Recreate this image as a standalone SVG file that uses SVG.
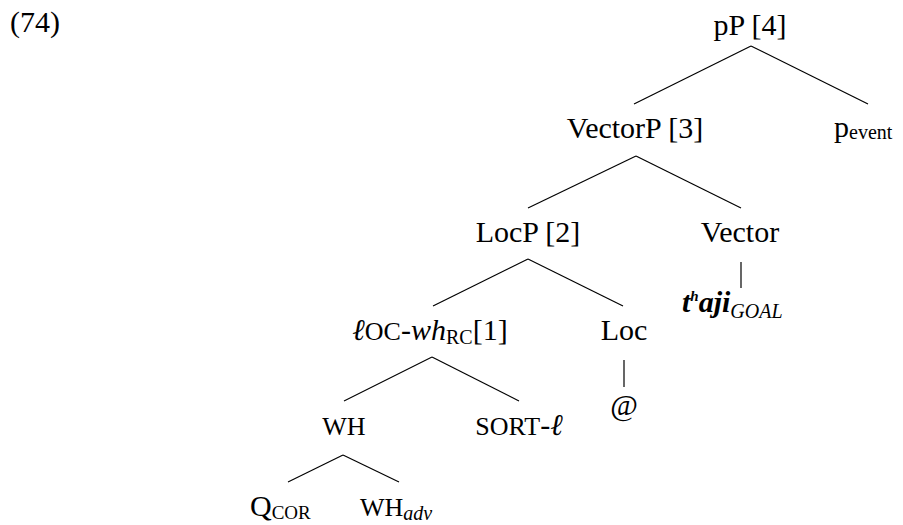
<svg xmlns="http://www.w3.org/2000/svg" width="903" height="525" viewBox="0 0 903 525">
<style>
text{font-family:"Liberation Serif","DejaVu Serif",serif;font-size:30px;fill:#000}
.m{text-anchor:middle}
.sc{font-size:26px}
.sub{font-size:20px}
.it{font-style:italic}
.bi{font-style:italic;font-weight:bold}
#edges line{stroke:#000;stroke-width:1.2}
</style>
<rect width="903" height="525" fill="#fff"/>
<text id="ex" x="10" y="32">(74)</text>
<g id="edges">
<line x1="751" y1="46" x2="634" y2="104"/>
<line x1="751" y1="46" x2="868" y2="104"/>
<line x1="636" y1="156" x2="528" y2="208"/>
<line x1="636" y1="156" x2="741" y2="208"/>
<line x1="528" y1="259" x2="433" y2="306"/>
<line x1="528" y1="259" x2="623" y2="306"/>
<line x1="432" y1="357" x2="344" y2="401"/>
<line x1="432" y1="357" x2="519" y2="401"/>
<line x1="343" y1="455" x2="288" y2="482"/>
<line x1="343" y1="455" x2="399" y2="482"/>
<line x1="741" y1="262" x2="741" y2="288"/>
<line x1="624" y1="360" x2="624" y2="387"/>
</g>
<g id="pP"><text class="m" x="750" y="35">pP [4]</text></g>
<g id="VectorP"><text class="m" x="635" y="138">VectorP [3]</text></g>
<g id="pevent"><text x="834" y="137">p<tspan class="sub" dy="2">event</tspan></text></g>
<g id="LocP"><text class="m" x="528" y="242">LocP [2]</text></g>
<g id="Vector"><text class="m" x="740" y="242">Vector</text></g>
<g id="locwh"><text class="m" x="430" y="340"><tspan class="it">ℓ</tspan><tspan class="sc">OC</tspan>-<tspan class="it">wh</tspan><tspan class="sub" dy="4">RC</tspan><tspan dy="-4">[1]</tspan></text></g>
<g id="Loc"><text class="m" x="624" y="340">Loc</text></g>
<g id="thaji"><text x="682" y="312"><tspan class="bi">t</tspan><tspan class="bi" font-size="15" dy="-11">h</tspan><tspan class="bi" dy="11">aji</tspan><tspan class="it sub" dy="6">GOAL</tspan></text></g>
<g id="at"><text class="m" x="624" y="415" font-size="24">@</text></g>
<g id="WH"><text class="m sc" x="344" y="435">WH</text></g>
<g id="SORT"><text class="m" x="519" y="435"><tspan class="sc">SORT</tspan>-<tspan class="it">ℓ</tspan></text></g>
<g id="QCOR"><text x="250" y="516">Q<tspan font-size="19" dy="3">COR</tspan></text></g>
<g id="WHadv"><text x="360" y="516"><tspan class="sc">WH</tspan><tspan class="it sub" dy="4">adv</tspan></text></g>
</svg>
